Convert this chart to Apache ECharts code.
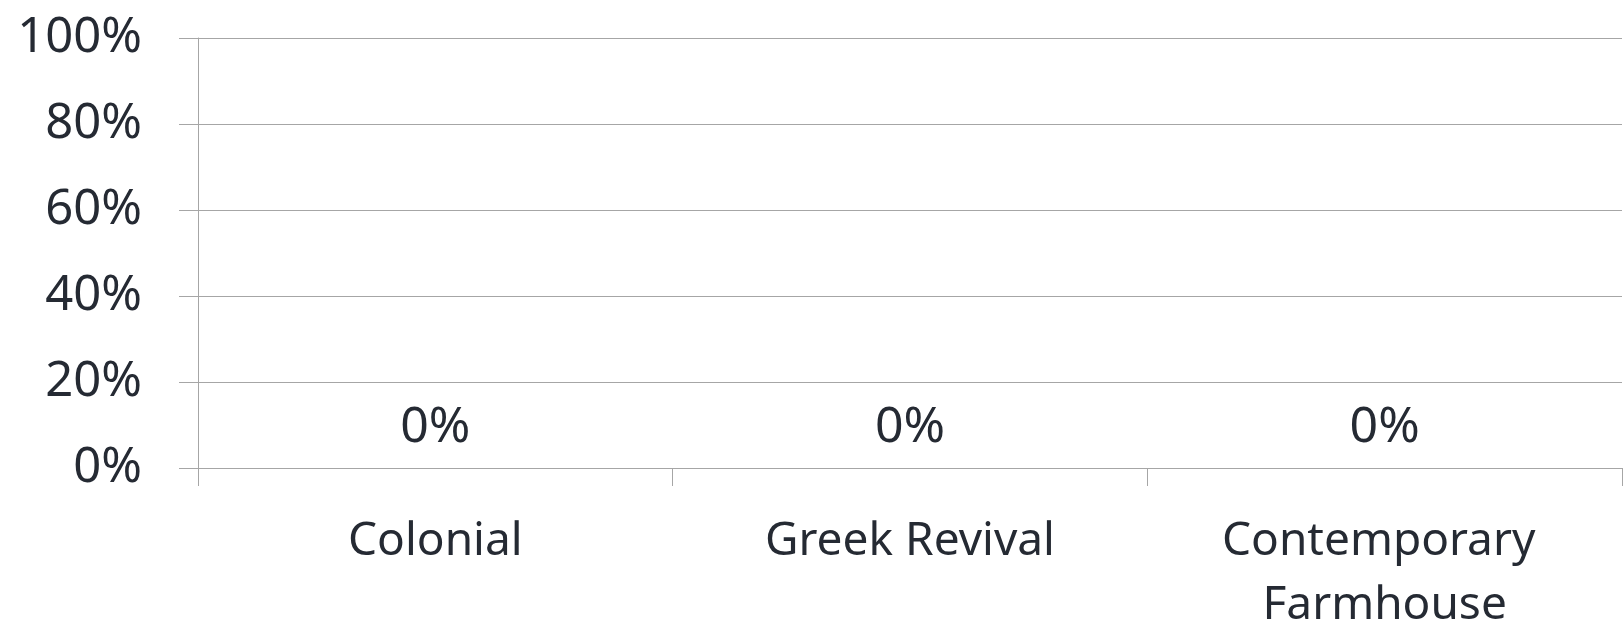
<!doctype html>
<html>
<head>
<meta charset="UTF-8">
<title>Home styles</title>
<script src="https://cdn.jsdelivr.net/npm/echarts@6/dist/echarts.min.js"></script>
<style>
  html, body { margin: 0; padding: 0; background: #fff; }
  #main { width: 1623px; height: 627px; }
</style>
</head>
<body>
<div id="main"></div>
<script>
// data
var categories = ['Colonial', 'Greek Revival', 'Contemporary Farmhouse'];
var shares = [0, 0, 0];
var yTicks = [0, 20, 40, 60, 80, 100];

var textColor = '#252a33';
var lineColor = '#a6a6a6';
var font = 'Noto Sans';

var myChart = echarts.init(document.getElementById('main'));
var option = {
    animation: false,
    grid: { left: 198, right: 1, top: 38, bottom: 159, containLabel: false, outerBoundsMode: 'none' },
    xAxis: {
        type: 'category',
        data: categories,
        axisLine: { show: true, lineStyle: { color: lineColor, width: 1 } },
        axisTick: { show: true, length: 18, interval: 0, lineStyle: { color: lineColor } },
        axisLabel: {
            interval: 0,
            margin: 42,
            color: textColor,
            fontFamily: font,
            fontSize: 46,
            lineHeight: 64,
            width: 460,
            overflow: 'break'
        }
    },
    yAxis: {
        type: 'value',
        min: yTicks[0],
        max: yTicks[yTicks.length - 1],
        interval: 20,
        axisLine: { show: true, lineStyle: { color: lineColor, width: 1 } },
        axisTick: { show: true, length: 19, lineStyle: { color: lineColor } },
        splitLine: { show: true, lineStyle: { color: lineColor, width: 1 } },
        axisLabel: {
            margin: 56,
            color: textColor,
            fontFamily: font,
            fontSize: 49,
            formatter: '{value}%'
        }
    },
    series: [{
        type: 'bar',
        data: shares,
        barWidth: '60%',
        itemStyle: { color: '#4472c4' },
        label: {
            show: true,
            position: 'top',
            distance: 15,
            color: textColor,
            fontFamily: font,
            fontSize: 50,
            lineHeight: 50,
            formatter: '{c}%'
        }
    }]
};
myChart.setOption(option);
</script>
</body>
</html>
